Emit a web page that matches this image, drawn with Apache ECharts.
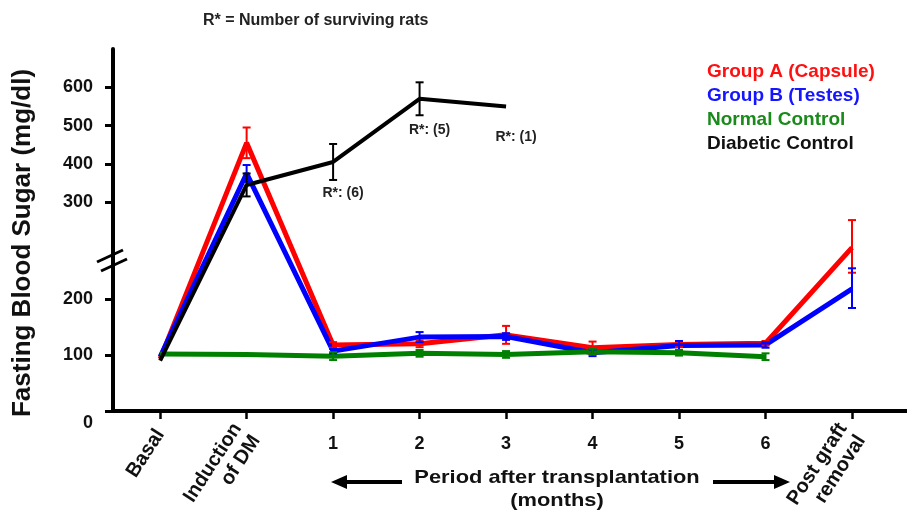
<!DOCTYPE html>
<html>
<head>
<meta charset="utf-8">
<script src="https://cdn.jsdelivr.net/npm/echarts@6/dist/echarts.min.js"></script>
<style>html,body{margin:0;padding:0;background:#fff}#chart{width:907px;height:519px}</style>
</head>
<body>
<div id="chart"></div>
<script>
// ---- data ----
const categories = ['Basal', 'Induction\nof DM', '1', '2', '3', '4', '5', '6', 'Post graft\nremoval'];
const groupA      = [93, 455, 118, 120, 136, 113, 119, 121, 267];
const groupAErr   = [0, 40, 5, 6, 16, 11, 5, 4, 20];
const groupB      = [97, 375, 107, 132, 133, 104, 117, 118, 218];
const groupBErr   = [0, 22, 4, 9, 6, 6, 8, 5, 34];
const normalCtl   = [102, 101, 98, 103, 101, 106, 104, 97, null];
const normalErr   = [0, 0, 7, 6, 6, 5, 5, 6, null];
const diabeticCtl = [90, 345, 405, 570, 550, null, null, null, null];
const diabeticErr = [0, 30, 47, 43, 0, null, null, null, null];
const survivors   = [null, null, 6, 5, 1, null, null, null, null];
const yTickValues = [0, 100, 200, 300, 400, 500, 600];
const seriesNames = ['Group A (Capsule)', 'Group B (Testes)', 'Normal Control', 'Diabetic Control'];

// ---- broken value axis (lower part 0-250, upper part 300+ drawn at a smaller scale) ----
const LOWER_END = 250, UPPER_START = 300, UPPER_START_AXIS = 373, UPPER_RATIO = 0.684, AXIS_TOP = 700;
function toAxis(v) {
  if (v == null) return null;
  if (v <= LOWER_END) return v;
  if (v <= UPPER_START) return LOWER_END + (v - LOWER_END) * (UPPER_START_AXIS - LOWER_END) / (UPPER_START - LOWER_END);
  return UPPER_START_AXIS + (v - UPPER_START) * UPPER_RATIO;
}
function fromAxis(t) {
  if (t <= LOWER_END) return t;
  if (t <= UPPER_START_AXIS) return LOWER_END + (t - LOWER_END) * (UPPER_START - LOWER_END) / (UPPER_START_AXIS - LOWER_END);
  return UPPER_START + (t - UPPER_START_AXIS) / UPPER_RATIO;
}

const colors = ['#ff0000', '#0000ff', '#008000', '#000000'];
const textColors = ['#ff1010', '#1515ff', '#1a8a1a', '#111111'];
const FONT = '"Liberation Sans", Arial, sans-serif';

function lineData(arr) { return arr.map((v, i) => v == null ? [i, '-'] : [i, toAxis(v)]); }
function errData(arr, err) {
  const out = [];
  arr.forEach((v, i) => { if (v != null && err[i]) out.push([i, toAxis(v - err[i]), toAxis(v + err[i])]); });
  return out;
}
function errSeries(name, arr, err, color) {
  return {
    type: 'custom', name: name + ' err', xAxisIndex: 0, yAxisIndex: 0, z: 5,
    data: errData(arr, err),
    renderItem: function (params, api) {
      const x = api.value(0);
      const lo = api.coord([x, api.value(1)]);
      const hi = api.coord([x, api.value(2)]);
      const c = 4;
      const st = { stroke: color, lineWidth: 2 };
      return { type: 'group', children: [
        { type: 'line', shape: { x1: lo[0], y1: lo[1], x2: hi[0], y2: hi[1] }, style: st },
        { type: 'line', shape: { x1: lo[0] - c, y1: lo[1], x2: lo[0] + c, y2: lo[1] }, style: st },
        { type: 'line', shape: { x1: hi[0] - c, y1: hi[1], x2: hi[0] + c, y2: hi[1] }, style: st }
      ]};
    }
  };
}
function lineSeries(idx, arr, width) {
  return {
    type: 'line', name: seriesNames[idx], data: lineData(arr), showSymbol: true, symbol: 'circle', symbolSize: 0.1,
    lineStyle: { color: colors[idx], width: width }, itemStyle: { color: colors[idx] }, z: 3, animation: false
  };
}

const chart = echarts.init(document.getElementById('chart'), null, { renderer: 'canvas' });
const xCommon = { type: 'value', min: -0.545, max: 8.636, gridIndex: 0, position: 'bottom', splitLine: { show: false } };

const diabeticSeries = lineSeries(3, diabeticCtl, 4);
diabeticSeries.label = {
  show: true, position: 'bottom', distance: 22, offset: [10, 2], color: '#222',
  fontFamily: FONT, fontWeight: 'bold', fontSize: 14,
  formatter: p => survivors[p.dataIndex] == null ? '' : 'R*: (' + survivors[p.dataIndex] + ')'
};

chart.setOption({
  animation: false,
  textStyle: { fontFamily: FONT },
  title: { text: 'R* = Number of surviving rats', left: 198, top: 8,
    textStyle: { fontFamily: FONT, fontWeight: 'bold', fontSize: 16, color: '#222' } },
  legend: {
    orient: 'vertical', left: 697, top: 57, icon: 'none', itemWidth: 0, itemHeight: 10, itemGap: 5,
    selectedMode: false,
    textStyle: { fontFamily: FONT, fontWeight: 'bold', fontSize: 19, padding: 0 },
    data: seriesNames.map((n, i) => ({ name: n, textStyle: { color: textColors[i] } }))
  },
  grid: { left: 113, right: 0, top: 49, bottom: 108, containLabel: false, outerBoundsMode: 'none' },
  xAxis: [
    Object.assign({}, xCommon, {
      axisLine: { show: true, onZero: false, lineStyle: { color: '#000', width: 4 } },
      axisTick: { show: true, customValues: categories.map((c, i) => i), length: 8, lineStyle: { color: '#000', width: 2.5 } },
      axisLabel: { show: true, customValues: [2, 3, 4, 5, 6, 7], margin: 24,
        formatter: v => categories[Math.round(v)], color: '#111', fontFamily: FONT, fontWeight: 'bold', fontSize: 18 }
    }),
    Object.assign({}, xCommon, {
      axisLine: { show: false, onZero: false }, axisTick: { show: false },
      axisLabel: { show: true, customValues: [0, 1, 8], rotate: 57, margin: 20, lineHeight: 22,
        formatter: v => categories[Math.round(v)], color: '#111', fontFamily: FONT, fontWeight: 'bold', fontSize: 20 }
    })
  ],
  yAxis: {
    type: 'value', min: 0, max: toAxis(AXIS_TOP), position: 'left',
    splitLine: { show: false },
    axisLine: { show: true, onZero: false, lineStyle: { color: '#000', width: 4 } },
    axisTick: { show: true, customValues: yTickValues.map(toAxis), length: 8, lineStyle: { color: '#000', width: 3 } },
    axisLabel: { show: true, customValues: yTickValues.map(toAxis), margin: 20,
      color: '#111', fontFamily: FONT, fontWeight: 'bold', fontSize: 18,
      formatter: v => { const r = Math.round(fromAxis(v)); return r === 0 ? '{z|0}' : String(r); },
      rich: { z: { padding: [24, 0, 0, 0], color: '#111', fontFamily: FONT, fontWeight: 'bold', fontSize: 18 } }
    }
  },
  series: [
    lineSeries(0, groupA, 5),
    lineSeries(1, groupB, 5),
    lineSeries(2, normalCtl, 5),
    diabeticSeries,
    errSeries('A', groupA, groupAErr, colors[0]),
    errSeries('B', groupB, groupBErr, colors[1]),
    errSeries('N', normalCtl, normalErr, colors[2]),
    errSeries('D', diabeticCtl, diabeticErr, colors[3])
  ],
  graphic: [
    { type: 'text', x: 23, y: 243, rotation: Math.PI / 2,
      style: { text: 'Fasting Blood Sugar (mg/dl)', font: 'bold 26px ' + FONT, fill: '#111', textAlign: 'center', textVerticalAlign: 'middle' } },
    { type: 'line', shape: { x1: 97, y1: 262, x2: 123, y2: 250 }, style: { stroke: '#000', lineWidth: 3 } },
    { type: 'line', shape: { x1: 101, y1: 271, x2: 127, y2: 259 }, style: { stroke: '#000', lineWidth: 3 } },
    { type: 'text', x: 557, y: 478, scaleX: 1.15,
      style: { text: 'Period after transplantation', font: 'bold 19px ' + FONT, fill: '#111', textAlign: 'center', textVerticalAlign: 'middle' } },
    { type: 'text', x: 557, y: 501, scaleX: 1.15,
      style: { text: '(months)', font: 'bold 19px ' + FONT, fill: '#111', textAlign: 'center', textVerticalAlign: 'middle' } },
    { type: 'line', shape: { x1: 345, y1: 482, x2: 402, y2: 482 }, style: { stroke: '#000', lineWidth: 4 } },
    { type: 'polygon', shape: { points: [[331, 482], [347, 475], [347, 489]] }, style: { fill: '#000' } },
    { type: 'line', shape: { x1: 713, y1: 482, x2: 776, y2: 482 }, style: { stroke: '#000', lineWidth: 4 } },
    { type: 'polygon', shape: { points: [[790, 482], [774, 475], [774, 489]] }, style: { fill: '#000' } }
  ]
});
</script>
</body>
</html>
